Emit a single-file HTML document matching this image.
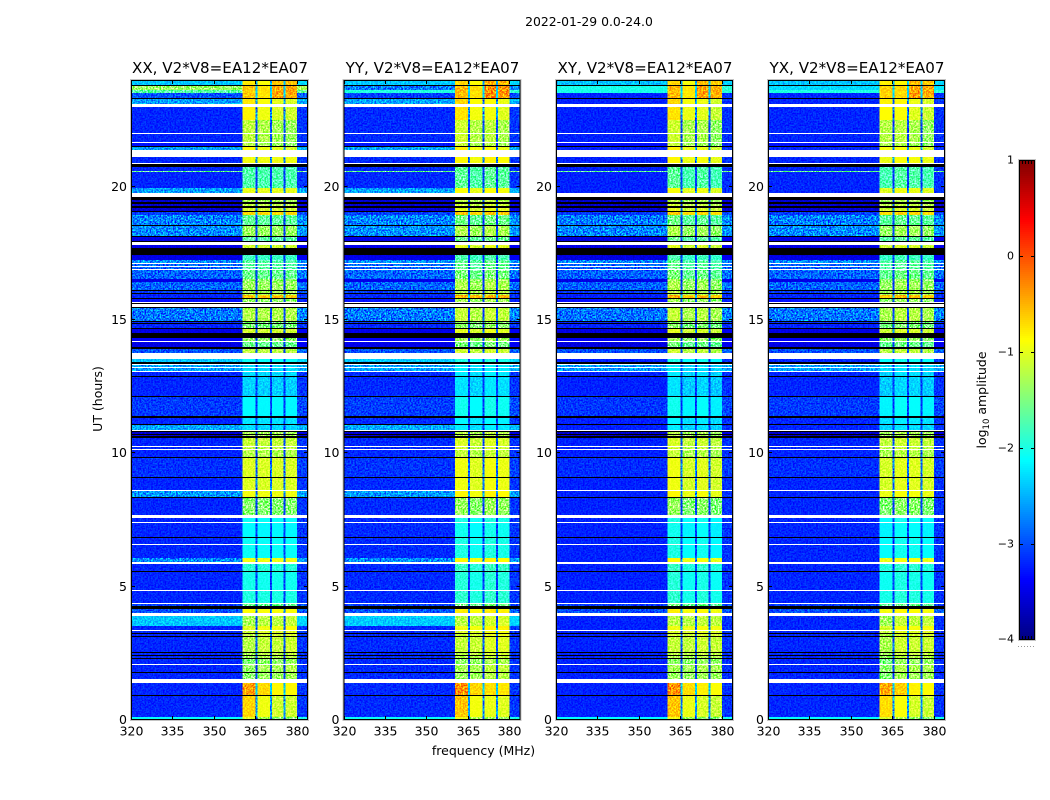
<!DOCTYPE html>
<html><head><meta charset="utf-8"><title>Spectrogram</title>
<style>
html,body{margin:0;padding:0;background:#fff;width:1050px;height:800px;overflow:hidden}
svg{display:block}
text{font-family:"DejaVu Sans","Liberation Sans",sans-serif;fill:#000}
</style></head>
<body>
<svg id="fig" xmlns="http://www.w3.org/2000/svg" width="1050" height="800" viewBox="0 0 1050 800">
<defs>
<filter id="grain" x="0" y="0" width="100%" height="100%" color-interpolation-filters="sRGB">
<feTurbulence type="fractalNoise" baseFrequency="0.6" numOctaves="2" seed="4"/>
<feColorMatrix type="matrix" values="2.6 0 0 0 -0.8  2.6 0 0 0 -0.8  2.6 0 0 0 -0.8  0 0 0 0 1"/>
</filter>
</defs>
<text x="589" y="26" font-size="12.4" text-anchor="middle">2022-01-29 0.0-24.0</text>
<text x="483.5" y="755" font-size="12.5" text-anchor="middle">frequency (MHz)</text>
<text x="0" y="0" font-size="12.5" text-anchor="middle" transform="translate(102,399) rotate(-90)">UT (hours)</text>
<text x="0" y="0" font-size="12.5" text-anchor="middle" transform="translate(986,400) rotate(-90)">log<tspan font-size="8.5" dy="3">10</tspan><tspan dy="-3"> amplitude</tspan></text>
<g id="panels"></g>
<g id="colorbar"></g>
</svg>
<script>
// Polarisation panels
var panelTitles = ["XX, V2*V8=EA12*EA07","YY, V2*V8=EA12*EA07","XY, V2*V8=EA12*EA07","YX, V2*V8=EA12*EA07"];
// Axis ticks
var freqTicks = [320,335,350,365,380];
var utTicks = [0,5,10,15,20];
var colorbarTicks = [1,0,-1,-2,-3,-4];
// Frequency channel edges (MHz): background, 4 sub-bands separated by notches, background
var channelEdges = [320,360.4,365,365.7,370.2,370.9,375.2,375.9,380,384];
var channelIsSignal = [0,1,1,1,1,1,1,1,0];
var channelSubBand = [-1,0,-1,1,-1,2,-1,3,-1];
var notchFloor = -3.1;
// log10 amplitude offset per channel, per polarisation
var channelGainXX = [0,0.02,-1.8,0,-1.8,0,-1.8,0,0.08];
var channelGainYY = [0.02,0.1,-1.8,0.02,-1.8,0.12,-1.8,0.08,0.08];
var channelGainXY = [-0.02,0.1,-1.8,-0.02,-1.8,0.04,-1.8,-0.04,0.06];
var channelGainYX = [0,-0.02,-1.8,0.05,-1.8,0.03,-1.8,-0.02,0.06];
// Time rows: lower edge in UT hours; upper edge is the next row's start (last ends at 24)
var rowStartUT = [0,0.056,0.113,0.919,0.956,1.388,1.538,1.781,1.819,2.081,2.119,2.288,2.325,2.419,2.456,2.513,2.55,3.131,3.169,3.244,3.281,3.356,3.394,3.525,3.9,4.013,4.181,4.275,4.369,4.406,4.856,4.894,5.569,5.606,5.85,5.925,6.075,6.581,6.619,6.844,6.881,7.406,7.444,7.575,7.688,8.325,8.363,8.588,8.644,9.075,9.113,9.844,9.881,10.144,10.181,10.256,10.294,10.575,10.65,10.706,10.744,10.819,10.856,10.894,11.063,11.1,11.325,11.4,12.113,12.15,12.881,12.919,13.05,13.106,13.2,13.256,13.313,13.369,13.425,13.538,13.763,13.913,13.988,14.175,14.213,14.325,14.513,14.681,14.719,14.85,14.888,14.944,14.981,15.45,15.488,15.6,15.638,15.694,15.788,15.825,15.938,15.994,16.031,16.106,16.144,16.425,16.556,16.875,16.931,17.006,17.044,17.119,17.156,17.25,17.438,17.719,17.813,17.944,17.981,18.113,18.15,18.525,18.563,18.938,19.05,19.088,19.2,19.275,19.35,19.425,19.5,19.613,19.763,19.95,20.569,20.606,20.756,20.85,20.906,21.113,21.375,21.506,21.544,21.656,21.694,21.994,22.031,22.5,22.988,23.1,23.306,23.344,23.513,23.625,23.794,23.831];
// Off-band log10 amplitude per row (null = flagged/white, -9 = below range/black)
var rowBackground = [null,-2.1,-3.2,-9,-3.2,null,-3.2,-9,-3.2,null,-3.2,-9,-3.2,-9,-3.2,-9,-3.2,-9,-3.2,-9,-3.2,null,-3.2,-2.4,null,-3,-9,-3.1,null,-3.2,null,-3.2,-9,-3.2,null,-2.7,-3.2,null,-3.2,-9,-3.2,null,-3.2,null,-3.2,-9,-2.65,null,-3.2,-9,-3.15,-9,-3.2,null,-3.2,null,-3.2,-9,-3.6,-9,-3.6,-9,null,-2.55,-9,-3.2,-9,-3.1,-9,-3.2,-9,-3.2,null,-2.6,null,-2.6,null,-9,-2.4,null,-3,-9,-3.5,null,-3.4,-9,-3.5,-9,-3.2,-9,-3.2,-9,-2.8,-9,null,-9,null,-3.3,-9,-3.2,-3.2,-9,-3.1,-9,-2.9,-3.5,-2.9,null,-2.9,null,-2.9,null,-2.7,-3.5,-9,-3.5,null,-9,-3.5,-9,-2.7,-9,-2.75,-3.1,-9,-3.6,-9,-3.6,-9,-3.6,-9,null,-2.6,-3.2,-1.6,-3.2,-9,null,-3.2,null,-2.6,-9,-3.3,null,-3.2,null,-3.2,-3.2,null,-2.6,-9,-3,-1.7,-1.35,-9,-2.4];
// In-band log10 amplitude per row (same conventions)
var rowSignal = [null,-1.2,-0.85,-9,-0.6,null,-1.35,-9,-1.3,null,-1.4,-9,-1.25,-9,-1.2,-9,-1.15,-9,-1.1,-9,-1.05,null,-0.95,-1.2,null,-0.9,-9,-1.6,null,-2,null,-2.05,-9,-1.95,null,-0.95,-2.1,null,-2.1,-9,-2.15,null,-2.1,null,-1.45,-9,-0.95,null,-1.05,-9,-1.05,-9,-1.25,null,-1.2,null,-1.15,-9,-1.3,-9,-1.3,-9,null,-2.3,-9,-2.25,-9,-2.15,-9,-2.35,-9,-2.3,null,-2.3,null,-2.3,null,-9,-2.1,null,-1.2,-9,-1.6,null,-1.4,-9,-1.1,-9,-1.5,-9,-1.5,-9,-1.25,-9,null,-9,null,-1.4,-9,-0.6,-1.3,-9,-1.3,-9,-1.35,-1.4,-1.6,null,-1.7,null,-1.7,null,-1.7,-1.85,-9,-1.1,null,-9,-1.7,-9,-1.35,-9,-1.65,-0.7,-9,-1.1,-9,-1.2,-9,-1.3,-9,null,-1,-1.75,-1.75,-1.75,-9,null,-0.95,null,-0.95,-9,-1.3,null,-1.25,null,-1.25,-0.95,null,-0.9,-9,-0.55,-0.55,-0.55,-9,-0.7];
// Rows whose off-band level differs by polarisation
var overrideStartUT = [3.525,5.925,8.363,10.894,13.425,19.763,21.375,23.1,23.344,23.513,23.625];
var overrideBgXX = [-2.4,-2.7,-2.65,-2.55,-2.4,-2.6,-2.6,-2.6,-3,-1.7,-1.35];
var overrideBgYY = [-2.4,-2.7,-2.65,-2.55,-2.4,-2.6,-2.6,-2.6,-3.1,-2,-2.8];
var overrideBgXY = [-3.2,-3.2,-3.2,-3.2,-3.2,-3.2,-3.2,-3.2,-3.2,-2,-2];
var overrideBgYX = [-3.2,-3.2,-3.2,-3.2,-3.2,-3.2,-3.2,-3.2,-3.2,-2,-2.3];
// Sub-band tilt per time epoch (lower edge in UT hours)
var tiltStartUT = [0,1.388,3.9,21,22.5,23.3];
var tiltSub1 = [0.15,-0.1,0,0.05,0.1,-0.1];
var tiltSub2 = [-0.1,0,0,0,0,-0.2];
var tiltSub3 = [-0.25,0,0,-0.05,-0.1,0.1];
var tiltSub4 = [-0.25,0.05,0,-0.1,-0.15,0.1];

var channelGains = [channelGainXX,channelGainYY,channelGainXY,channelGainYX];
var overrideBgs = [overrideBgXX,overrideBgYY,overrideBgXY,overrideBgYX];
var tilts = [tiltSub1,tiltSub2,tiltSub3,tiltSub4];
var panelLefts = [131,343.5,556,768];
var panelW = 177, panelTop = 80, panelH = 640;
var SVGNS = "http://www.w3.org/2000/svg";
function make(tag, attrs, parent, txt){
  var el = document.createElementNS(SVGNS, tag);
  for (var k in attrs) el.setAttribute(k, attrs[k]);
  if (txt !== undefined) el.textContent = txt;
  parent.appendChild(el);
  return el;
}
function freqScale(mhz, left){ return left + (mhz - 320) * panelW / 64; }
function utScale(h){ return panelTop + panelH - h * panelH / 24; }
function snap(y){ return Math.round(y + 0.25); }
function clamp01(v){ return Math.max(0, Math.min(1, v)); }
function jet(t){
  var r = clamp01(Math.min(4*t - 1.5, -4*t + 4.5));
  var g = clamp01(Math.min(4*t - 0.5, -4*t + 3.5));
  var b = clamp01(Math.min(4*t + 0.5, -4*t + 2.5));
  return "rgb(" + Math.round(r*255) + "," + Math.round(g*255) + "," + Math.round(b*255) + ")";
}
function colorFor(v){ return jet((v + 4) / 5); }
function fmt(v){ return v < 0 ? "\u2212" + Math.abs(v) : String(v); }
function epochIndex(h){
  var e = 0;
  for (var i = 0; i < tiltStartUT.length; i++) if (h >= tiltStartUT[i]) e = i;
  return e;
}
function backgroundAt(r, p){
  var o = overrideStartUT.indexOf(rowStartUT[r]);
  return o >= 0 ? overrideBgs[p][o] : rowBackground[r];
}

var panelsG = document.getElementById("panels");
panelTitles.forEach(function(title, p){
  var left = panelLefts[p];
  var g = make("g", {}, panelsG);
  
  
  var outer = make("rect", {x:left - 0.5, y:panelTop - 0.5, width:panelW + 1, height:panelH + 1, fill:"none", stroke:"#c4c4c4", "stroke-width":1}, g);
  
  
  var cells = make("g", {"shape-rendering":"crispEdges"}, g);
  
  
  rowStartUT.forEach(function(start, r){
    var end = r + 1 < rowStartUT.length ? rowStartUT[r + 1] : 24;
    var yTop = snap(utScale(end)), yBot = snap(utScale(start));
    var bg = backgroundAt(r, p), sig = rowSignal[r];
    var epoch = epochIndex(start);
    channelGains[p].forEach(function(gain, c){
      var base = channelIsSignal[c] ? sig : bg;
      if (base === null) return;
      var fill = "#000";
      if (base >= -4) {
        var v = base + gain;
        if (channelSubBand[c] >= 0) v += tilts[channelSubBand[c]][epoch];
        if (channelIsSignal[c]) v = Math.max(v, notchFloor);
        fill = colorFor(v);
      }
      var x0 = freqScale(channelEdges[c], left), x1 = freqScale(channelEdges[c + 1], left);
      var cell = make("rect", {x:x0, y:yTop, width:x1 - x0, height:yBot - yTop, fill:fill}, cells);
      
      
    });
  });
  var grain = make("rect", {x:left, y:panelTop, width:panelW, height:panelH, fill:"#808080", filter:"url(#grain)", style:"mix-blend-mode:overlay"}, g);
  
  
  var frame = make("rect", {x:left + 0.5, y:panelTop + 0.5, width:panelW - 1, height:panelH - 1, fill:"none", stroke:"#000", "stroke-width":1}, g);
  
  
  var ttl = make("text", {x:left + panelW / 2 + 0.5, y:73, "font-size":15.1, "text-anchor":"middle"}, g, title);
  
  
  freqTicks.forEach(function(f){
    var x = Math.round(freqScale(f, left)) + 0.5;
    var t1 = make("line", {x1:x, x2:x, y1:panelTop + panelH, y2:panelTop + panelH - 4, stroke:"#000"}, g);
    
    
    var t2 = make("line", {x1:x, x2:x, y1:panelTop, y2:panelTop + 4, stroke:"#000"}, g);
    
    
    var lab = make("text", {x:x, y:735.5, "font-size":12.5, "text-anchor":"middle"}, g, String(f));
    
    
  });
  utTicks.forEach(function(h){
    var y = Math.round(utScale(h)) - 0.5;
    var t1 = make("line", {x1:left, x2:left + 4, y1:y, y2:y, stroke:"#000"}, g);
    
    
    var t2 = make("line", {x1:left + panelW, x2:left + panelW - 4, y1:y, y2:y, stroke:"#000"}, g);
    
    
    var lab = make("text", {x:left - 4, y:y + 4.5, "font-size":12.5, "text-anchor":"end"}, g, String(h));
    
    
  });
});

// Colorbar
var cb = document.getElementById("colorbar");
var cbLeft = 1019, cbW = 16, cbTop = 160, cbH = 480;
function cbScale(v){ return cbTop + (1 - v) * cbH / 5; }
var cbRamp = make("g", {"shape-rendering":"crispEdges"}, cb);


for (var py = 0; py < cbH; py += 2) {
  var val = 1 - (py + 1) / cbH * 5;
  var step = make("rect", {x:cbLeft, y:cbTop + py, width:cbW, height:2, fill:colorFor(val)}, cbRamp);
  
  
}
var cbOuter = make("rect", {x:cbLeft - 0.5, y:cbTop - 0.5, width:cbW + 1, height:cbH + 1, fill:"none", stroke:"#c4c4c4"}, cb);


var cbFrame = make("rect", {x:cbLeft + 0.5, y:cbTop + 0.5, width:cbW - 1, height:cbH - 1, fill:"none", stroke:"#000"}, cb);


colorbarTicks.forEach(function(v){
  var y = Math.min(Math.round(cbScale(v)) + 0.5, cbTop + cbH - 0.5);
  var t1 = make("line", {x1:cbLeft, x2:cbLeft + 4, y1:y, y2:y, stroke:"#000"}, cb);
  
  
  var t2 = make("line", {x1:cbLeft + cbW, x2:cbLeft + cbW - 4, y1:y, y2:y, stroke:"#000"}, cb);
  
  
  var lab = make("text", {x:cbLeft - 5, y:y + 3, "font-size":11, "text-anchor":"end"}, cb, fmt(v));
  
  
});
[3,6,9,12].forEach(function(dx){
  var a = make("line", {x1:cbLeft + dx + 0.5, x2:cbLeft + dx + 0.5, y1:cbTop, y2:cbTop + 4, stroke:"#000"}, cb);
  
  
  var b = make("line", {x1:cbLeft + dx + 0.5, x2:cbLeft + dx + 0.5, y1:cbTop + cbH, y2:cbTop + cbH - 4, stroke:"#000"}, cb);
  
  
});
var dots = make("line", {x1:1018, x2:1035, y1:646.5, y2:646.5, stroke:"#999", "stroke-width":1, "stroke-dasharray":"1 2"}, cb);


</script>
</body></html>
